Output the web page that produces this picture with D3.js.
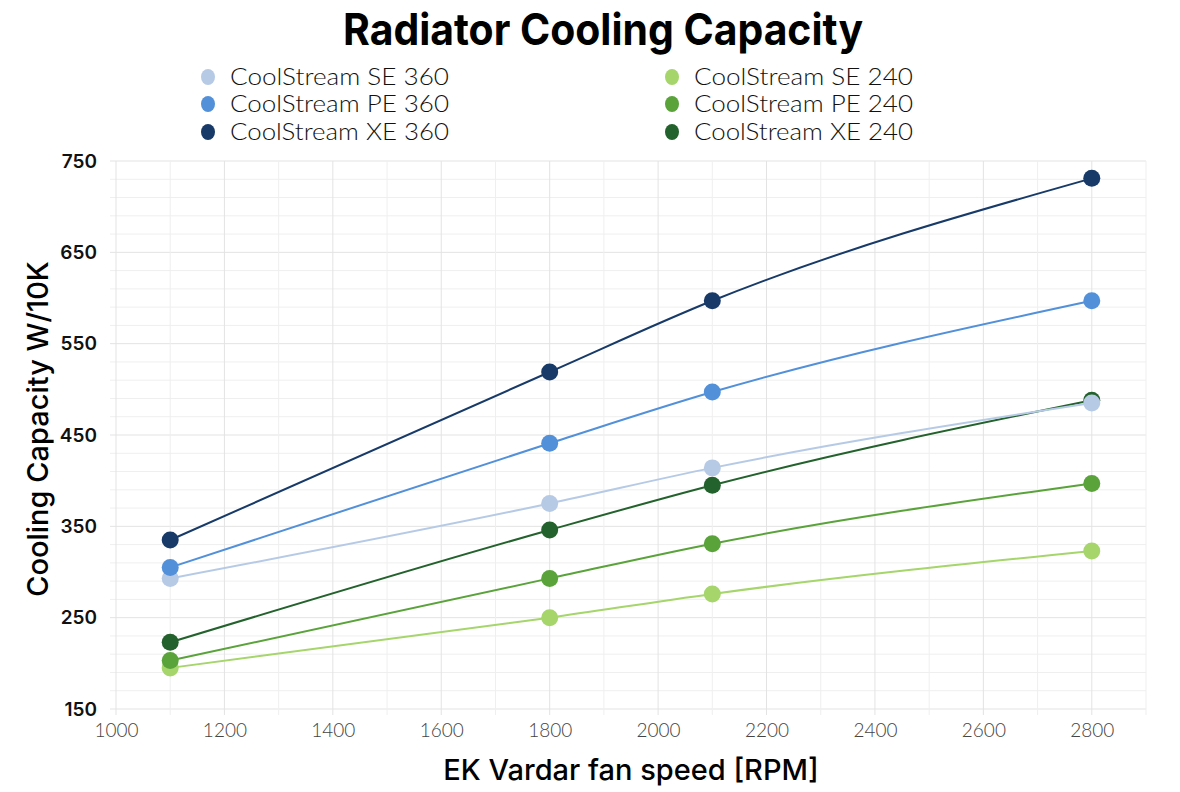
<!DOCTYPE html>
<html><head><meta charset="utf-8">
<script src="https://cdn.jsdelivr.net/npm/d3@7"></script>
<style>body{margin:0;background:#fff}svg{display:block}</style>
</head><body>
<svg id="c" width="1180" height="792"></svg>
<script>
const rpm = [1100, 1800, 2100, 2800];
const seriesNames = ["CoolStream SE 360","CoolStream PE 360","CoolStream XE 360","CoolStream SE 240","CoolStream PE 240","CoolStream XE 240"];
const se360 = [293, 375, 414, 485];
const pe360 = [305, 441, 497, 597];
const xe360 = [335, 519, 597, 731];
const se240 = [195, 250, 276, 323];
const pe240 = [203, 293, 331, 397];
const xe240 = [223, 346, 395, 488];
const colors = ["#b6cae6","#5290da","#173a68","#a5d56b","#5aa33b","#23622c"];
const yTicks = [150,250,350,450,550,650,750];
const xTicks = [1000,1200,1400,1600,1800,2000,2200,2400,2600,2800];
const values = [se360, pe360, xe360, se240, pe240, xe240];

const svg = d3.select("#c");
const L=116, R=1146, T=161, B=709;
const x = d3.scaleLinear().domain([1000,2900]).range([L,R]);
const y = d3.scaleLinear().domain([150,750]).range([B,T]);

// grid
const g = svg.append("g");
g.selectAll("line.hg").data(d3.range(150,751,20)).join("line")
  .attr("x1",L-6).attr("x2",R).attr("y1",d=>y(d)).attr("y2",d=>y(d))
  .attr("stroke",d=>((d-150)%100===0)?"#e3e3e3":"#efefef").attr("stroke-width",1);
g.selectAll("line.vg").data(d3.range(1000,2901,100)).join("line")
  .attr("y1",T).attr("y2",B+6).attr("x1",d=>x(d)).attr("x2",d=>x(d))
  .attr("stroke",d=>(d%200===0)?"#e3e3e3":"#efefef").attr("stroke-width",1);

// axes labels
const ya = svg.append("g").attr("transform",`translate(${L},0)`)
  .call(d3.axisLeft(y).tickValues(yTicks).tickSize(0).tickPadding(19));
ya.select(".domain").remove();
ya.selectAll("text").attr("font-family","Inter, sans-serif").attr("font-weight",600)
  .attr("font-size",19).attr("fill","#111");
const xa = svg.append("g").attr("transform",`translate(0,${B})`)
  .call(d3.axisBottom(x).tickValues(xTicks).tickFormat(d3.format("d")).tickSize(0).tickPadding(15));
xa.select(".domain").remove();
xa.selectAll("text").attr("font-family","Lato, sans-serif").attr("font-weight",300)
  .attr("font-size",19).attr("fill","#444");

// lines
const line = d3.line().x((d,i)=>x(rpm[i])).y(d=>y(d)).curve(d3.curveMonotoneX);
const order = [3,4,5,0,1,2];
order.forEach(k=>{
  svg.append("path").datum(values[k]).attr("d",line).attr("fill","none")
    .attr("stroke",colors[k]).attr("stroke-width",2);
});
order.forEach(k=>{
  svg.append("g").selectAll("circle").data(values[k]).join("circle")
    .attr("cx",(d,i)=>x(rpm[i])).attr("cy",d=>y(d)).attr("r",8.5).attr("fill",colors[k]);
});

// title
svg.append("text").attr("x",603).attr("y",45).attr("text-anchor","middle")
  .attr("font-family","Inter, sans-serif").attr("font-weight",700).attr("font-size",44)
  .attr("textLength",520).attr("lengthAdjust","spacingAndGlyphs")
  .attr("fill","#000").text("Radiator Cooling Capacity");

// legend
const legX=[208,672], legY=[77,104,132];
seriesNames.forEach((n,i)=>{
  const col=Math.floor(i/3), row=i%3;
  svg.append("ellipse").attr("cx",legX[col]).attr("cy",legY[row]).attr("rx",7).attr("ry",8).attr("fill",colors[i]);
  svg.append("text").attr("x",legX[col]+22).attr("y",legY[row]+8)
    .attr("font-family","Lato, sans-serif").attr("font-weight",300).attr("font-size",24)
    .attr("textLength",219).attr("lengthAdjust","spacingAndGlyphs")
    .attr("fill","#111").text(n);
});

// axis titles
svg.append("text").attr("x",631).attr("y",780).attr("text-anchor","middle")
  .attr("font-family","Inter, sans-serif").attr("font-weight",500).attr("font-size",29)
  .attr("fill","#000").text("EK Vardar fan speed [RPM]");
svg.append("text").attr("transform","translate(48,429) rotate(-90)").attr("text-anchor","middle")
  .attr("font-family","Inter, sans-serif").attr("font-weight",500).attr("font-size",29)
  .attr("fill","#000").text("Cooling Capacity W/10K");
</script>
</body></html>
